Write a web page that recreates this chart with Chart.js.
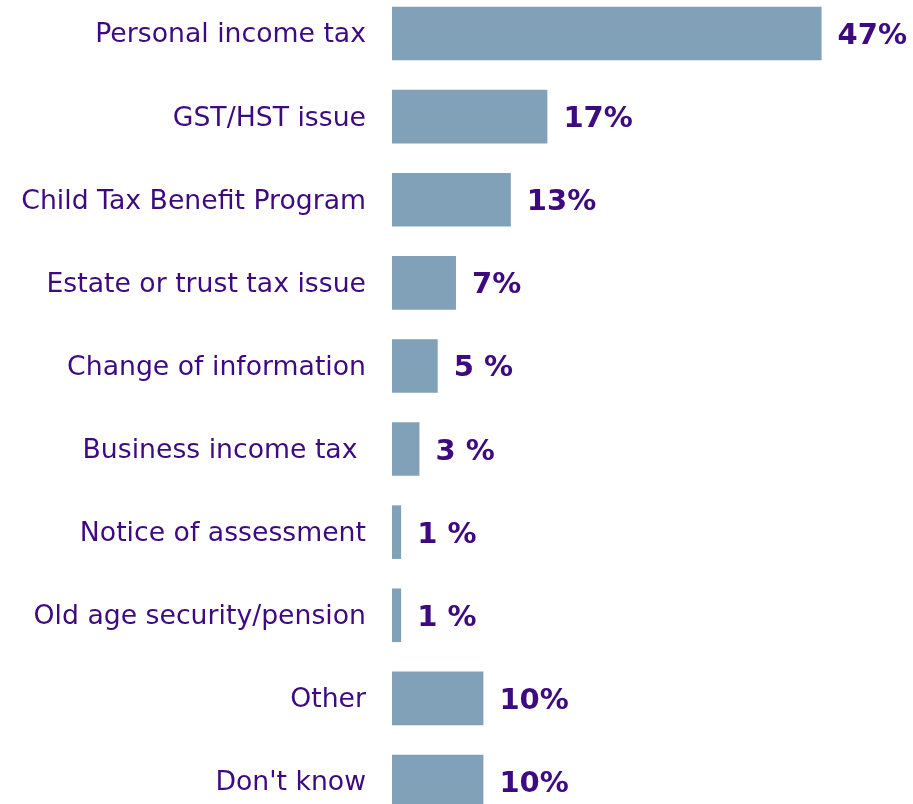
<!DOCTYPE html>
<html>
<head>
<meta charset="utf-8">
<script src="https://cdn.jsdelivr.net/npm/chart.js@4/dist/chart.umd.min.js"></script>
<style>
  html, body { margin: 0; padding: 0; background: #fff; overflow: hidden; }
  body { width: 913px; height: 804px; position: relative; }
  #wrap { position: absolute; left: 0; top: -8px; width: 913px; height: 831px; }
</style>
</head>
<body>
<div id="wrap"><canvas id="issueChart"></canvas></div>
<script>
// enquiry topics and share of calls (%)
const topics = ['Personal income tax', 'GST/HST issue', 'Child Tax Benefit Program',
  'Estate or trust tax issue', 'Change of information', 'Business income tax ',
  'Notice of assessment', 'Old age security/pension', 'Other', "Don't know"];
const shares = [47, 17, 13, 7, 5, 3, 1, 1, 10, 10];
const shareText = ['47%', '17%', '13%', '7%', '5 %', '3 %', '1 %', '1 %', '10%', '10%'];

const purple = '#3d0a80';
const barColor = '#80a1b8';

// writes the percentage just past the end of each bar
const valueLabels = {
  id: 'valueLabels',
  afterDatasetsDraw(chart) {
    const ctx = chart.ctx;
    const meta = chart.getDatasetMeta(0);
    ctx.save();
    ctx.font = 'bold 29px "DejaVu Sans"';
    ctx.fillStyle = purple;
    ctx.textAlign = 'left';
    ctx.textBaseline = 'middle';
    meta.data.forEach(function(bar, i) {
      ctx.fillText(shareText[i], bar.x + 16, bar.y + 3);
    });
    ctx.restore();
  }
};

const issueChart = new Chart(document.getElementById('issueChart'), {
  type: 'bar',
  data: {
    labels: topics,
    datasets: [{
      data: shares,
      backgroundColor: barColor,
      borderWidth: 0,
      barPercentage: 0.645,
      categoryPercentage: 1
    }]
  },
  options: {
    indexAxis: 'y',
    responsive: true,
    maintainAspectRatio: false,
    animation: false,
    layout: { padding: { left: 0, right: 64, top: 0, bottom: 0 } },
    plugins: {
      legend: { display: false },
      tooltip: { enabled: false }
    },
    scales: {
      x: {
        display: false,
        min: 0,
        max: 50
      },
      y: {
        grid: { display: false, drawTicks: false },
        border: { display: false },
        ticks: {
          color: purple,
          padding: 26,
          labelOffset: 2,
          font: { family: '"DejaVu Sans"', size: 26.7 }
        },
        afterFit(scale) {
          // fixed axis width, and no extra room above/below the bars
          scale.width = 392;
          scale.paddingTop = 0;
          scale.paddingBottom = 0;
        }
      }
    }
  },
  plugins: [valueLabels]
});
</script>
</body>
</html>
